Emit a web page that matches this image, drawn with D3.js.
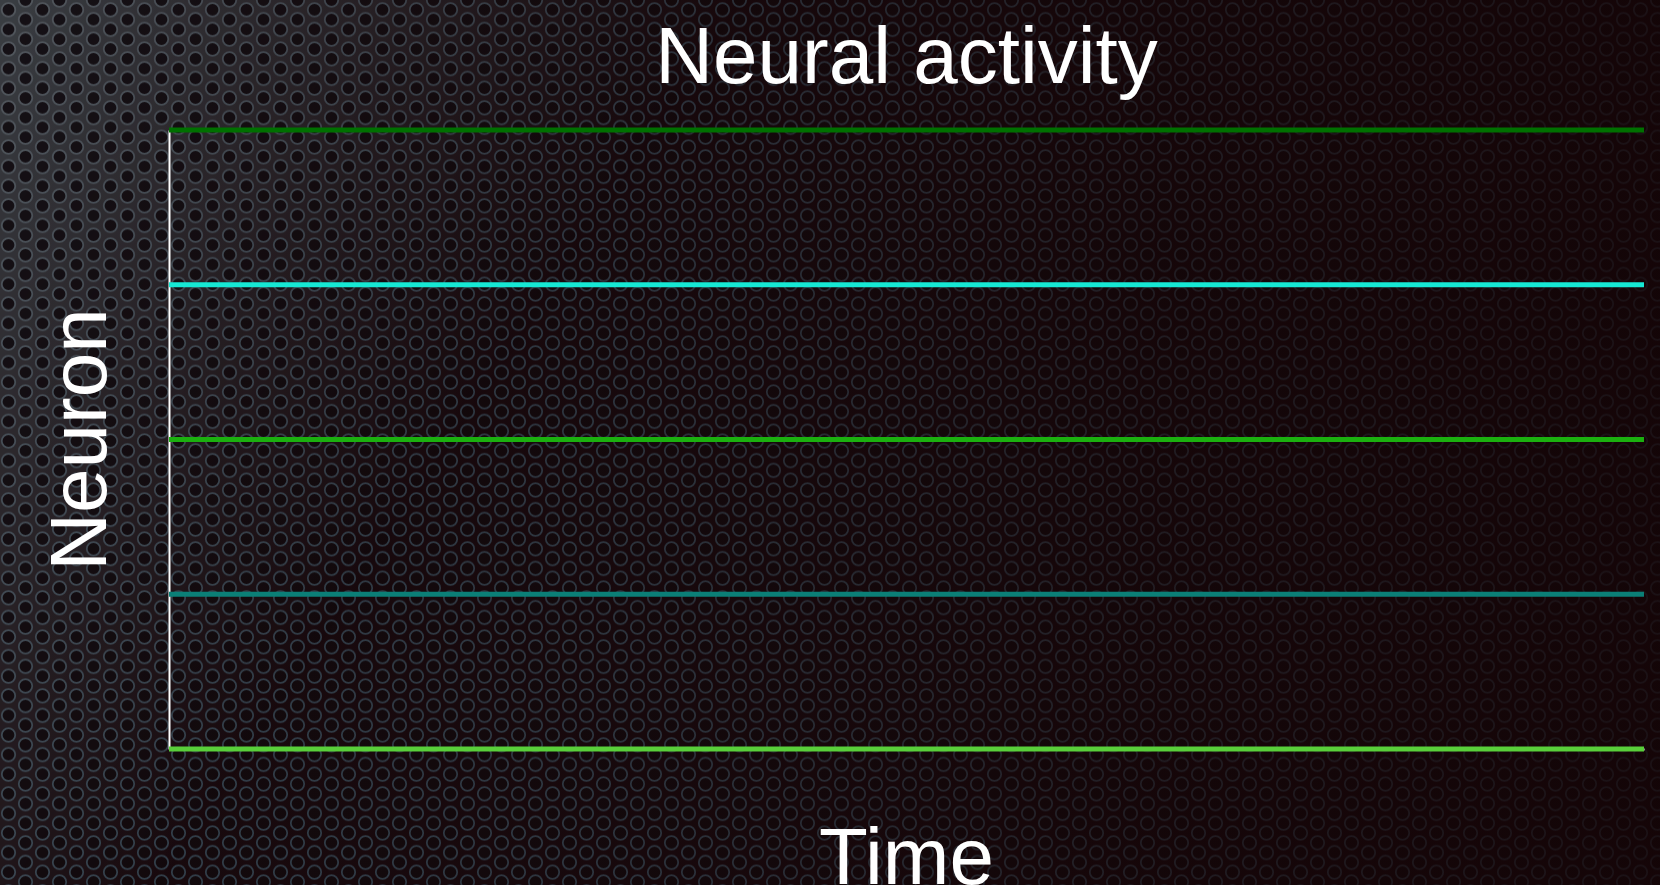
<!DOCTYPE html>
<html>
<head>
<meta charset="utf-8">
<script src="https://cdn.jsdelivr.net/npm/d3@7"></script>
<style>
  html, body { margin: 0; padding: 0; background: #140709; overflow: hidden; }
  svg { display: block; }
  text { font-family: "Liberation Sans", Arial, Helvetica, sans-serif; fill: #ffffff; }
</style>
</head>
<body>
<svg></svg>
<script>
// neurons, top to bottom
const neurons = ["n1", "n2", "n3", "n4", "n5"];
const neuronColors = ["#007000", "#16e8d4", "#1bb00f", "#0b7f77", "#59cf3a"];
// time samples (start, end) and the activity of each neuron at those samples
const timeSteps = [0, 100];
const activity = [
    [0, 0],
    [0, 0],
    [0, 0],
    [0, 0],
    [0, 0]
];

const titleText = "Neural activity";
const xLabel = "Time";
const yLabel = "Neuron";

let width = 1660;
let height = 885;
let padding = { top: 130, right: 16, bottom: 136, left: 169 };

let svg = d3.select("svg")
    .attr("width", width)
    .attr("height", height);

let defs = svg.append("defs");

// perforated metal background
let drawBackground = () => {
    const dx = 17, dy = 19.6;
    const centres = [[dx / 2, dy / 2], [dx * 1.5, 0], [dx * 1.5, dy]];

    let holes = defs.append("pattern")
        .attr("id", "holes")
        .attr("patternUnits", "userSpaceOnUse")
        .attr("width", dx * 2)
        .attr("height", dy);
    centres.forEach(p => {
        holes.append("circle")
            .attr("cx", p[0]).attr("cy", p[1])
            .attr("r", 6.7)
            .attr("fill", "#120a0d")
            .attr("stroke", "#34434f")
            .attr("stroke-width", 1.7);
    });

    let plate = defs.append("pattern")
        .attr("id", "plate")
        .attr("patternUnits", "userSpaceOnUse")
        .attr("width", dx * 2)
        .attr("height", dy);
    plate.append("rect")
        .attr("width", dx * 2).attr("height", dy)
        .attr("fill", "#3a3e43");
    centres.forEach(p => {
        plate.append("circle")
            .attr("cx", p[0]).attr("cy", p[1])
            .attr("r", 6.8)
            .attr("fill", "#151116")
            .attr("stroke", "#53585e")
            .attr("stroke-width", 1.8);
    });

    let fade = defs.append("linearGradient")
        .attr("id", "fade")
        .attr("x1", 0).attr("y1", 0)
        .attr("x2", 1).attr("y2", 0.35);
    fade.append("stop").attr("offset", "0%").attr("stop-color", "#fff").attr("stop-opacity", 1);
    fade.append("stop").attr("offset", "12%").attr("stop-color", "#fff").attr("stop-opacity", 0.7);
    fade.append("stop").attr("offset", "40%").attr("stop-color", "#fff").attr("stop-opacity", 0);

    let mask = defs.append("mask").attr("id", "plateMask");
    mask.append("rect")
        .attr("width", width).attr("height", height)
        .attr("fill", "url(#fade)");

    let darken = defs.append("linearGradient")
        .attr("id", "darken")
        .attr("x1", 0).attr("y1", 0)
        .attr("x2", 1).attr("y2", 0);
    darken.append("stop").attr("offset", "0%").attr("stop-color", "#140406").attr("stop-opacity", 0);
    darken.append("stop").attr("offset", "35%").attr("stop-color", "#140406").attr("stop-opacity", 0.2);
    darken.append("stop").attr("offset", "70%").attr("stop-color", "#140406").attr("stop-opacity", 0.6);
    darken.append("stop").attr("offset", "100%").attr("stop-color", "#140406").attr("stop-opacity", 0.78);

    svg.append("rect")
        .attr("width", width).attr("height", height)
        .attr("fill", "#180a0e");
    svg.append("rect")
        .attr("width", width).attr("height", height)
        .attr("fill", "url(#holes)");
    svg.append("rect")
        .attr("width", width).attr("height", height)
        .attr("fill", "url(#plate)")
        .attr("mask", "url(#plateMask)");
    svg.append("rect")
        .attr("width", width).attr("height", height)
        .attr("fill", "url(#darken)");
};

let xScale = d3.scaleLinear()
    .domain(d3.extent(timeSteps))
    .range([padding.left, width - padding.right]);

let yScale = d3.scalePoint()
    .domain(neurons)
    .range([padding.top, height - padding.bottom]);

let drawAxis = () => {
    let xAxis = d3.axisBottom(xScale).tickValues([]).tickSizeOuter(0);
    let yAxis = d3.axisLeft(yScale).tickValues([]).tickSizeOuter(0);

    svg.append("g")
        .attr("id", "x-axis")
        .attr("transform", `translate(0,${height - padding.bottom})`)
        .call(xAxis)
        .select(".domain")
        .attr("stroke", "#ffffff")
        .attr("stroke-width", 2);

    svg.append("g")
        .attr("id", "y-axis")
        .attr("transform", `translate(${padding.left},0)`)
        .call(yAxis)
        .select(".domain")
        .attr("stroke", "#ffffff")
        .attr("stroke-width", 2);
};

let drawLines = () => {
    let line = d3.line()
        .x((d, i) => xScale(timeSteps[i]))
        .y(d => d.y);

    svg.selectAll(".neuron")
        .data(neurons)
        .enter()
        .append("path")
        .attr("class", "neuron")
        .attr("fill", "none")
        .attr("stroke", (d, i) => neuronColors[i])
        .attr("stroke-width", 5)
        .attr("d", (d, i) => line(activity[i].map(v => ({ y: yScale(d) - v }))));
};

let drawLabels = () => {
    let cx = (xScale.range()[0] + xScale.range()[1]) / 2;
    let cy = (yScale.range()[0] + yScale.range()[1]) / 2;

    svg.append("text")
        .attr("x", cx)
        .attr("y", 83)
        .attr("text-anchor", "middle")
        .style("font-size", "80px")
        .text(titleText);

    // the reference clips the bottom of this label at the page edge
    svg.append("text")
        .attr("x", cx)
        .attr("y", 884)
        .attr("text-anchor", "middle")
        .style("font-size", "80px")
        .text(xLabel);

    svg.append("text")
        .attr("transform", `translate(106,${cy}) rotate(-90)`)
        .attr("text-anchor", "middle")
        .style("font-size", "80px")
        .text(yLabel);
};

drawBackground();
drawAxis();
drawLines();
drawLabels();
</script>
</body>
</html>
